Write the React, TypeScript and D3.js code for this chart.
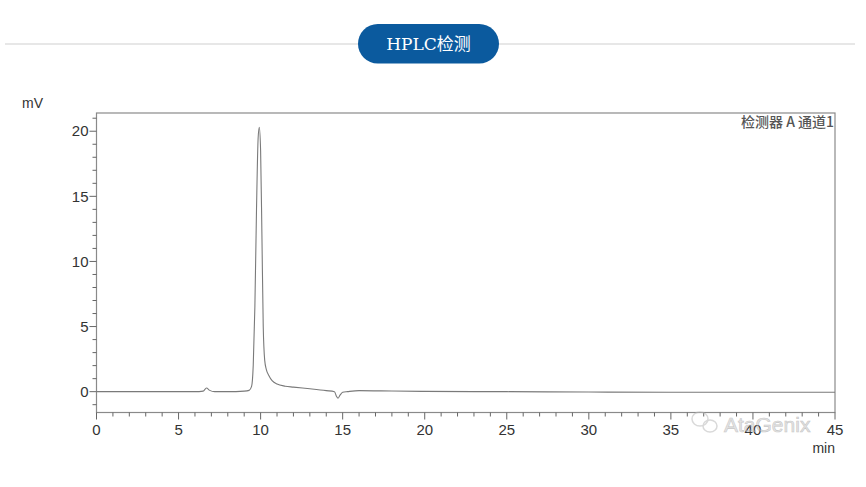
import React, {useMemo} from 'react';
import * as d3 from 'd3';

// chromatogram trace, time in min / signal in mV
const times = [0, 2, 4, 6, 6.5, 6.7, 6.9, 7.2, 8, 9, 9.3, 9.45, 9.55, 9.65, 9.75, 9.85, 9.92, 10.0, 10.08,
  10.16, 10.25, 10.35, 10.5, 10.7, 11.0, 11.5, 12, 13, 14, 14.5, 14.62, 14.72, 14.85, 15.0, 15.3, 16, 18, 20,
  25, 30, 35, 40, 45];
const signal = [0, 0, 0, 0, 0.04, 0.28, 0.1, 0, 0, 0.04, 0.1, 0.4, 2.0, 6.5, 14, 19.5, 20.3, 18.5, 12,
  5, 2.4, 1.7, 1.25, 0.85, 0.58, 0.42, 0.35, 0.22, 0.08, 0.0, -0.35, -0.5, -0.25, -0.05, 0.0, 0.08, 0.05, 0.02,
  0, -0.03, -0.05, -0.05, -0.05];

const xTicks = [0, 5, 10, 15, 20, 25, 30, 35, 40, 45];
const yTicks = [0, 5, 10, 15, 20];
const xMinor = d3.range(0, 46, 1);
const yMinor = d3.range(-1, 22, 1);

const title = 'HPLC检测';
const channelLabel = '检测器 A 通道1';

const W = 866;
const H = 487;
const plot = {left: 96.5, right: 835, top: 113, bottom: 412.5};
const axisFont = '"Liberation Sans", Arial, sans-serif';

const App: React.FC = () => {
  const x = useMemo(() => d3.scaleLinear().domain([0, 45]).range([plot.left, plot.right]), []);
  const y = useMemo(() => d3.scaleLinear().domain([-1.6, 21.4]).range([plot.bottom, plot.top]), []);

  const path = useMemo(() => {
    const pts = times.map((t, i) => [t, signal[i]] as [number, number]);
    return d3.line<[number, number]>()
        .x(d => x(d[0]))
        .y(d => y(d[1]))
        .curve(d3.curveMonotoneX)(pts) || '';
  }, [x, y]);

  return (
      <svg width={W} height={H} style={{position: 'absolute', left: 0, top: 0, background: '#fff'}}>
        {/* header */}
        <line x1={5} x2={855} y1={44} y2={44} stroke="#cfcfcf" strokeWidth={1}/>
        <rect x={358} y={24} width={141} height={39.5} rx={19.75} fill="#0b5a9e"/>
        <text x={428.5} y={50} textAnchor="middle" fill="#fff" fontSize={17}
              fontFamily='"DejaVu Serif", "Liberation Serif", "Noto Sans CJK SC", serif'>{title}</text>

        {/* frame */}
        <rect x={plot.left} y={plot.top} width={plot.right - plot.left} height={plot.bottom - plot.top}
              fill="none" stroke="#8a8a8a" strokeWidth={1.2}/>

        {/* y axis ticks */}
        {yMinor.map(v => (
            <line key={'ym' + v} x1={plot.left} x2={plot.left - (v % 5 === 0 ? 7 : 4)} y1={y(v)} y2={y(v)}
                  stroke="#666" strokeWidth={1}/>
        ))}
        {yTicks.map(v => (
            <text key={'yt' + v} x={plot.left - 8} y={y(v)} dy="0.35em" textAnchor="end" fontSize={15}
                  fill="#333" fontFamily={axisFont}>{v}</text>
        ))}

        {/* x axis ticks */}
        {xMinor.map(v => (
            <line key={'xm' + v} x1={x(v)} x2={x(v)} y1={plot.bottom} y2={plot.bottom + (v % 5 === 0 ? 7 : 4)}
                  stroke="#666" strokeWidth={1}/>
        ))}
        {xTicks.map(v => (
            <text key={'xt' + v} x={x(v)} y={435} textAnchor="middle" fontSize={15}
                  fill="#333" fontFamily={axisFont}>{v}</text>
        ))}

        <text x={22} y={108} fontSize={14} fill="#333" fontFamily={axisFont}>mV</text>
        <text x={835} y={453} textAnchor="end" fontSize={14} fill="#333" fontFamily={axisFont}>min</text>
        <text x={834} y={127} textAnchor="end" fontSize={14} fill="#555" fontWeight={500}
              fontFamily='"Noto Sans CJK SC", sans-serif'>{channelLabel}</text>

        {/* trace */}
        <path d={path} fill="none" stroke="#7a7a7a" strokeWidth={1.1}/>

        {/* watermark */}
        <g opacity={0.55}>
          <ellipse cx={700} cy={419} rx={8} ry={7} fill="none" stroke="#bbb" strokeWidth={1.5}/>
          <ellipse cx={710} cy={426} rx={7} ry={6} fill="none" stroke="#bbb" strokeWidth={1.5}/>
          <text x={724} y={432} fontSize={21} fill="#cfcfcf" stroke="#999" strokeWidth={0.6}
                fontFamily={axisFont}>AtaGenix</text>
        </g>
      </svg>
  );
};

export default App;
